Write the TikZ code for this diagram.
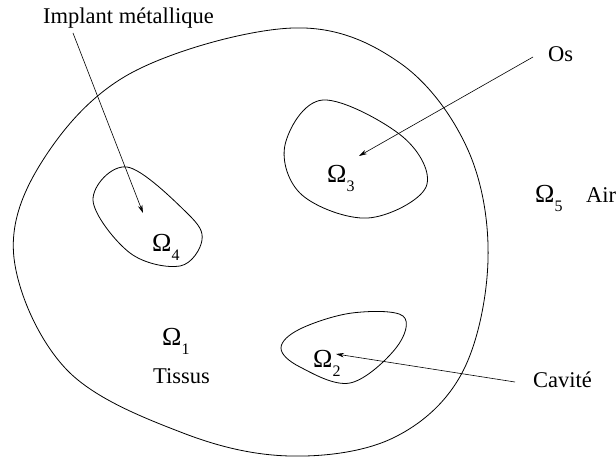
\documentclass[tikz,border=0pt]{standalone}
\usepackage{fontspec}
\setmainfont{Liberation Serif}
\usetikzlibrary{arrows.meta}

\newcommand{\omsub}[1]{{\fontsize{26}{26}\selectfont Ω}\raisebox{-9pt}{\fontsize{16}{16}\selectfont #1}}

\tikzstyle{region} = [line width=0.8pt]
\tikzstyle{label} = [inner sep=0pt, anchor=base west, font=\fontsize{22.5}{26}\selectfont]
\tikzstyle{arrow} = [line width=0.6pt,-{Stealth[length=8pt,width=4.5pt]}]

\begin{document}
\begin{tikzpicture}[x=1pt,y=-1pt]
\useasboundingbox (0,0) rectangle (616,457);
% tissus (outer)
\draw [region] plot[smooth cycle, tension=0.6] coordinates {(293,28) (400,63) (468,150) (488,260) (462,373) (393,438) (290,456) (183,433) (67,370) (14,258) (43,160) (133,72)};
% implant
\draw [region] plot[smooth cycle, tension=0.6] coordinates {(127,167) (187,213) (202,240) (180,266) (130,253) (93,200)};
% os
\draw [region] plot[smooth cycle, tension=0.6] coordinates {(323,100) (403,137) (426,187) (368,218) (302,195) (285,145)};
% cavite
\draw [region] plot[smooth cycle, tension=0.6] coordinates {(281,348) (300,329) (352,313) (403,316) (396,348) (350,383) (300,367)};

\node (om1) [label] at (162,345) {\omsub{1}};
\node (tissus) [label] at (153,383) {Tissus};
\node (om2) [label] at (313,367) {\omsub{2}};
\node (om3) [label] at (327,183) {\omsub{3}};
\node (om4) [label] at (152,252) {\omsub{4}};
\node (om5) [label] at (535,203) {\omsub{5}};
\node (air) [label] at (586,203) {Air};
\node (implant) [label] at (43,24) {Implant métallique};
\node (os) [label] at (548,62) {Os};
\node (cavite) [label] at (533,387) {Cavité};

\coordinate (implant_start) at (73,33);
\coordinate (implant_tip) at (143,213);
\coordinate (os_start) at (533,57);
\coordinate (os_tip) at (359,156);
\coordinate (cavite_start) at (515,382);
\coordinate (cavite_tip) at (336,354);

\draw [arrow] (implant_start) -- (implant_tip);
\draw [arrow] (os_start) -- (os_tip);
\draw [arrow] (cavite_start) -- (cavite_tip);
\end{tikzpicture}
\end{document}
